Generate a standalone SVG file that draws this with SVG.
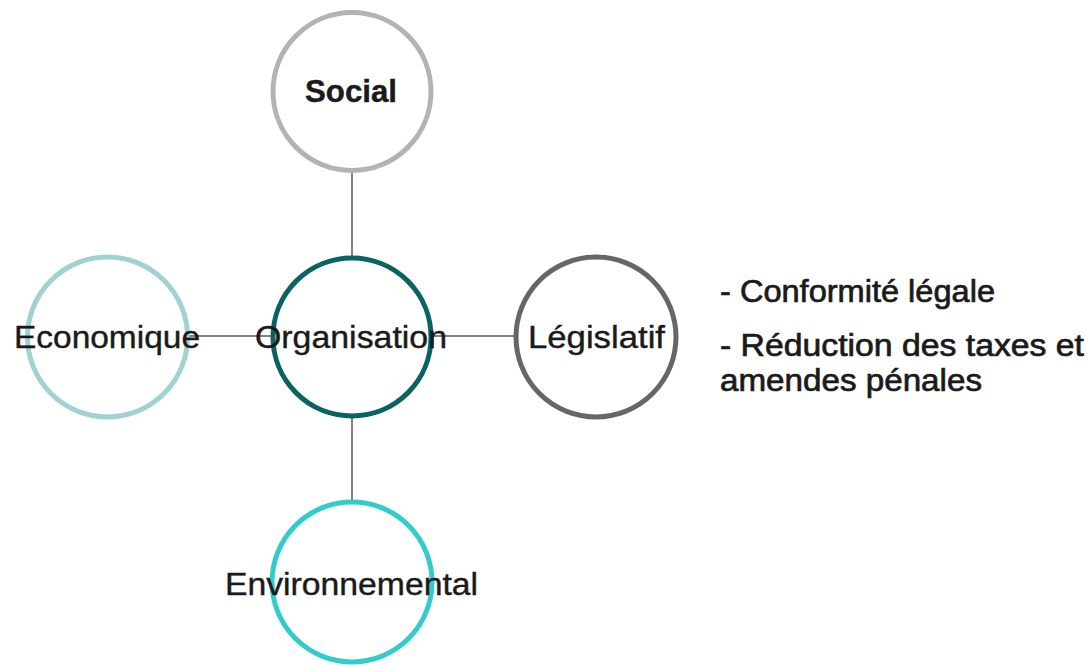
<svg xmlns="http://www.w3.org/2000/svg" width="1090" height="665" viewBox="0 0 1090 665">
<style>
.node{fill:#ffffff;stroke-width:5}
.lbl{font-family:"Liberation Sans",Arial,sans-serif;font-size:31px;fill:#1a1a1a;stroke:#1a1a1a;stroke-width:0.4;text-anchor:middle}
.txt{font-family:"Liberation Sans",Arial,sans-serif;font-size:31px;fill:#1a1a1a;stroke:#1a1a1a;stroke-width:0.7}
.conn{stroke:#595959;stroke-width:1.5;fill:none}
</style>
<rect width="1090" height="665" fill="#ffffff"/>
<g id="connectors">
<line class="conn" x1="352" y1="171" x2="352" y2="258"/>
<line class="conn" x1="352" y1="416" x2="352" y2="503"/>
<line class="conn" x1="187" y1="336" x2="273" y2="336"/>
<line class="conn" x1="431" y1="336" x2="517" y2="336"/>
</g>
<g id="social">
<circle class="node" cx="352" cy="91.5" r="79" stroke="#b3b3b3"/>
<text class="lbl" x="351" y="102" font-weight="bold" stroke-width="0" textLength="92" lengthAdjust="spacingAndGlyphs">Social</text>
</g>
<g id="organisation">
<circle class="node" cx="352" cy="337" r="79" stroke="#0b6262"/>
</g>
<g id="economique">
<circle class="node" cx="107.5" cy="337" r="80" stroke="#a0d2d2"/>
</g>
<g id="legislatif">
<circle class="node" cx="596" cy="337" r="80" stroke="#666666"/>
<text class="lbl" x="596.5" y="348" textLength="137" lengthAdjust="spacingAndGlyphs">Législatif</text>
</g>
<g id="environnemental">
<circle class="node" cx="352" cy="582" r="80" stroke="#33cccc"/>
<text class="lbl" x="351.5" y="595" textLength="253" lengthAdjust="spacingAndGlyphs">Environnemental</text>
</g>
<g id="labels-over">
<text class="lbl" x="107" y="348" textLength="186" lengthAdjust="spacingAndGlyphs">Economique</text>
<text class="lbl" x="351" y="348" textLength="192" lengthAdjust="spacingAndGlyphs">Organisation</text>
</g>
<g id="legislatif-notes">
<text class="txt" x="720" y="302" textLength="275" lengthAdjust="spacingAndGlyphs">- Conformité légale</text>
<text class="txt" x="720" y="356" textLength="364" lengthAdjust="spacingAndGlyphs">- Réduction des taxes et</text>
<text class="txt" x="720" y="391" textLength="262" lengthAdjust="spacingAndGlyphs">amendes pénales</text>
</g>
</svg>
